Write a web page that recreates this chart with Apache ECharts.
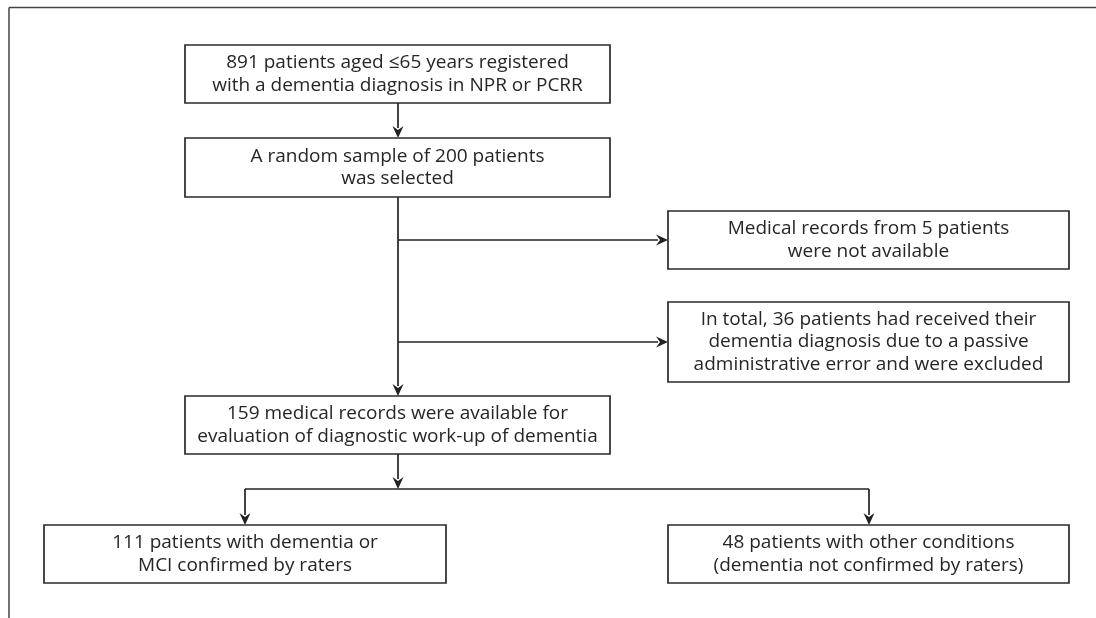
<!DOCTYPE html>
<html>
<head>
<meta charset="utf-8">
<script src="https://cdn.jsdelivr.net/npm/echarts@6/dist/echarts.min.js"></script>
<style>
html,body{margin:0;padding:0;background:#fff;}
#chart{width:1096px;height:618px;}
</style>
</head>
<body>
<div id="chart"></div>
<script>
// ---- content ----
const boxTexts = [
  "891 patients aged \u226465 years registered\nwith a dementia diagnosis in NPR or PCRR",
  "A random sample of 200 patients\nwas selected",
  "Medical records from 5 patients\nwere not available",
  "In total, 36 patients had received their\ndementia diagnosis due to a passive\nadministrative error and were excluded",
  "159 medical records were available for\nevaluation of diagnostic work-up of dementia",
  "111 patients with dementia or\nMCI confirmed by raters",
  "48 patients with other conditions\n(dementia not confirmed by raters)"
];

// ---- layout (canvas units) ----
const boxLayout = [
  [185, 45, 610, 103],
  [185, 138, 610, 197],
  [668, 211, 1069, 269],
  [668, 302, 1069, 382],
  [185, 396, 610, 454],
  [44, 525, 446, 583],
  [668, 525, 1069, 583]
];
// connectors: points, arrow at end (1) or not (0)
const connectors = [
  [[[398,103],[398,138]], 1],
  [[[398,197],[398,396]], 1],
  [[[398,240],[668,240]], 1],
  [[[398,342],[668,342]], 1],
  [[[398,454],[398,489]], 1],
  [[[245,489],[869,489]], 0],
  [[[245,489],[245,525]], 1],
  [[[869,489],[869,525]], 1]
];
const frameLines = [
  [[9,7.5],[1096,7.5]],
  [[9,7.5],[9,618]]
];

const FONT = '"Open Sans", "Noto Sans", sans-serif';
const chart = echarts.init(document.getElementById('chart'), null, {renderer:'canvas'});

const boxData = boxTexts.map((t,i)=>({value:[...boxLayout[i]], text:t}));
const connData = connectors.map(c=>({value:[0,0], pts:c[0], arrow:c[1]}));
const frameData = frameLines.map(p=>({value:[0,0], pts:p}));

chart.setOption({
  animation:false,
  backgroundColor:'#ffffff',
  grid:{left:0,right:0,top:0,bottom:0},
  xAxis:{type:'value',min:0,max:1096,show:false},
  yAxis:{type:'value',min:0,max:618,inverse:true,show:false},
  series:[
    {
      type:'custom',
      coordinateSystem:'cartesian2d',
      data:frameData,
      silent:true,
      renderItem:function(params, api){
        const d = frameData[params.dataIndex];
        const p = d.pts.map(pt=>api.coord(pt));
        return {type:'polyline', shape:{points:p}, style:{stroke:'#444',lineWidth:1.5,fill:null}};
      }
    },
    {
      type:'custom',
      coordinateSystem:'cartesian2d',
      data:connData,
      silent:true,
      renderItem:function(params, api){
        const d = connData[params.dataIndex];
        const p = d.pts.map(pt=>api.coord(pt));
        const children = [];
        const n = p.length;
        const end = p[n-1], prev = p[n-2];
        const dx = end[0]-prev[0], dy = end[1]-prev[1];
        const len = Math.sqrt(dx*dx+dy*dy);
        const ux = dx/len, uy = dy/len;
        const L = 12, W = 5.5;
        let linePts = p.slice();
        if (d.arrow){
          linePts[n-1] = [end[0]-ux*(L-2), end[1]-uy*(L-2)];
        }
        children.push({type:'polyline', shape:{points:linePts}, style:{stroke:'#222',lineWidth:1.7,fill:null}});
        if (d.arrow){
          const bx = end[0]-ux*L, by = end[1]-uy*L;
          children.push({type:'polygon', shape:{points:[
            [end[0],end[1]],
            [bx - uy*W, by + ux*W],
            [end[0]-ux*(L-4), end[1]-uy*(L-4)],
            [bx + uy*W, by - ux*W]
          ]}, style:{fill:'#222'}});
        }
        return {type:'group', children:children};
      }
    },
    {
      type:'custom',
      coordinateSystem:'cartesian2d',
      data:boxData,
      silent:true,
      renderItem:function(params, api){
        const v = boxData[params.dataIndex].value;
        const a = api.coord([v[0],v[1]]);
        const b = api.coord([v[2],v[3]]);
        return {type:'group', children:[
          {type:'rect', shape:{x:a[0],y:a[1],width:b[0]-a[0],height:b[1]-a[1]},
           style:{fill:'#fff',stroke:'#2a2a2a',lineWidth:1.7}},
          {type:'text', x:(a[0]+b[0])/2, y:(a[1]+b[1])/2,
           style:{text:boxData[params.dataIndex].text, fill:'#262626',
             font:'19px '+FONT, align:'center', verticalAlign:'middle', lineHeight:22.5}}
        ]};
      }
    }
  ]
});
</script>
</body>
</html>
